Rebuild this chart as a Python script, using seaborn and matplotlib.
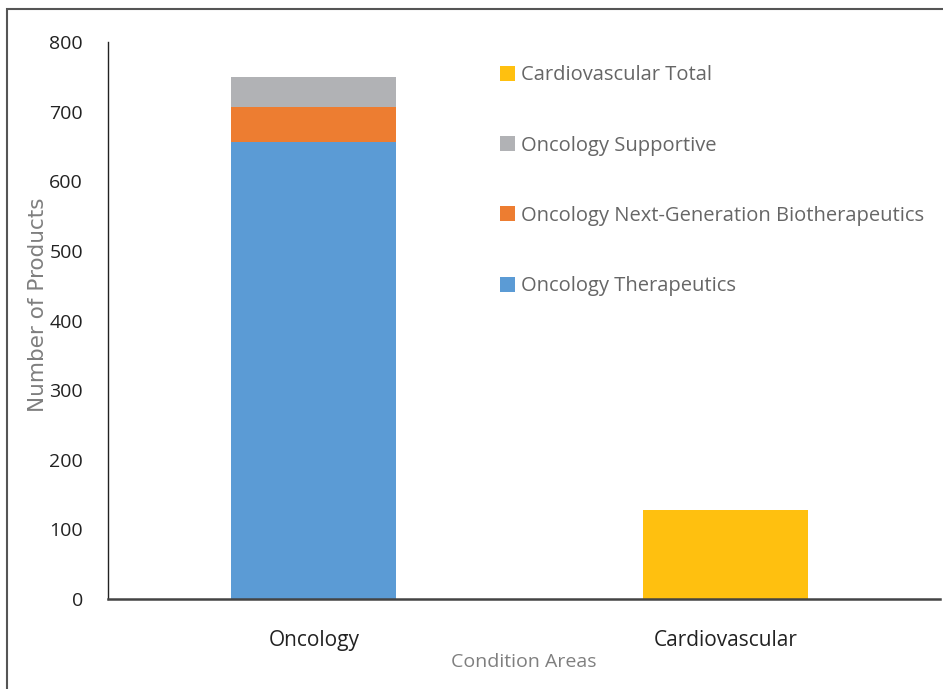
import matplotlib
matplotlib.use("Agg")
import matplotlib.pyplot as plt
from matplotlib.patches import Patch, Rectangle
import numpy as np
import seaborn as sns

categories = ["Oncology", "Cardiovascular"]
onc_therapeutics = [657, 0]
onc_nextgen = [50, 0]
onc_supportive = [43, 0]
cardio_total = [0, 128]
y_ticks = [0, 100, 200, 300, 400, 500, 600, 700, 800]

series = [
    ("Oncology Therapeutics", onc_therapeutics, "#5B9BD5"),
    ("Oncology Next-Generation Biotherapeutics", onc_nextgen, "#ED7D31"),
    ("Oncology Supportive", onc_supportive, "#B1B2B5"),
    ("Cardiovascular Total", cardio_total, "#FFC00F"),
]

sns.set_style("white")
plt.rcParams['font.family'] = ['Open Sans', 'DejaVu Sans']

fig = plt.figure(figsize=(9.43, 6.89), dpi=100)
ax = fig.add_axes([0.1145, 0.1306, 0.882, 0.8084])

# stacked bars: draw cumulative totals, largest first
cum = np.cumsum([s[1] for s in series], axis=0)
for i in range(len(series) - 1, -1, -1):
    sns.barplot(x=categories, y=cum[i], color=series[i][2], width=0.4,
                saturation=1, linewidth=0, ax=ax)

ax.set_ylim(0, 800)
ax.set_xlim(-0.5, 1.52)
ax.set_yticks(y_ticks)
ax.tick_params(axis='both', length=0, labelsize=14, colors='#222222')
ax.tick_params(axis='x', pad=22, labelsize=15)
ax.tick_params(axis='y', pad=18)

ax.set_ylabel("Number of Products", color='#7F7F7F', fontsize=15.5,
              family=['DejaVu Sans'])
ax.yaxis.set_label_coords(-0.072, 0.528)
ax.set_xlabel("Condition Areas", color='#7F7F7F', fontsize=14, labelpad=2)

for side in ['top', 'right']:
    ax.spines[side].set_visible(False)
ax.spines['left'].set_color('#222222')
ax.spines['left'].set_linewidth(1)
ax.spines['bottom'].set_color('#444444')
ax.spines['bottom'].set_linewidth(1.8)

handles = [Patch(facecolor=c, edgecolor='none', label=n) for n, v, c in series[::-1]]
leg = ax.legend(handles=handles, loc='upper left', bbox_to_anchor=(0.45, 0.991),
                frameon=False, fontsize=14.5, labelcolor='#666666',
                handlelength=0.75, handleheight=0.75, handletextpad=0.25,
                labelspacing=2.5)

# outer frame of the screenshot
fig.add_artist(Rectangle((7 / 943, -0.02), 1.1, 1.0 - 9 / 689 + 0.02,
                         transform=fig.transFigure, fill=False,
                         edgecolor='#555555', linewidth=1.5))

fig.savefig("out.png", dpi=100)
